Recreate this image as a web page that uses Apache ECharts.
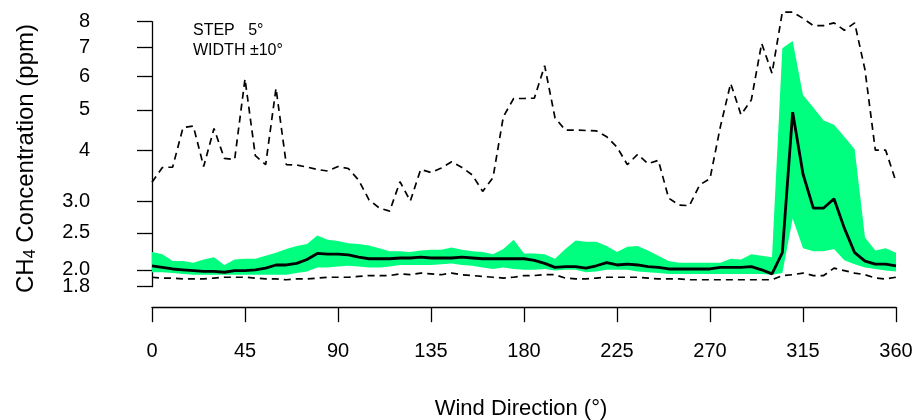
<!DOCTYPE html>
<html>
<head>
<meta charset="utf-8">
<script src="https://cdn.jsdelivr.net/npm/echarts@6/dist/echarts.min.js"></script>
<style>
html,body{margin:0;padding:0;background:#fff;}
#chart{width:917px;height:420px;}
</style>
</head>
<body>
<div id="chart"></div>
<script>
// Wind direction (degrees), step 5
const directions = [0,5,10,15,20,25,30,35,40,45,50,55,60,65,70,75,80,85,90,95,100,105,110,115,120,125,130,135,140,145,150,155,160,165,170,175,180,185,190,195,200,205,210,215,220,225,230,235,240,245,250,255,260,265,270,275,280,285,290,295,300,305,310,315,320,325,330,335,340,345,350,355,360];
// upper dashed line
const upperLine = [3.35,3.64,3.65,4.54,4.58,3.66,4.52,3.83,3.81,5.91,3.89,3.70,5.62,3.70,3.69,3.65,3.60,3.57,3.66,3.62,3.39,3.03,2.89,2.84,3.36,3.01,3.60,3.54,3.63,3.76,3.64,3.49,3.18,3.44,4.82,5.32,5.32,5.33,6.34,4.79,4.48,4.48,4.47,4.46,4.32,4.08,3.70,3.92,3.72,3.79,3.06,2.94,2.93,3.30,3.42,4.56,5.77,4.87,5.28,7.14,6.09,8.41,8.41,8.14,7.84,7.84,7.95,7.65,7.95,6.20,4.01,4.01,3.36];
// lower dashed line
const lowerLine = [1.91,1.90,1.90,1.89,1.89,1.89,1.90,1.91,1.91,1.91,1.90,1.89,1.89,1.88,1.89,1.89,1.90,1.91,1.91,1.91,1.92,1.93,1.93,1.93,1.95,1.94,1.96,1.95,1.94,1.96,1.94,1.93,1.92,1.91,1.90,1.91,1.93,1.93,1.94,1.94,1.90,1.89,1.89,1.90,1.91,1.91,1.91,1.91,1.90,1.89,1.89,1.89,1.88,1.88,1.88,1.88,1.88,1.88,1.88,1.88,1.88,1.93,1.94,1.96,1.93,1.93,2.02,1.99,1.96,1.94,1.90,1.89,1.91];
// median (solid line)
const median = [2.05,2.03,2.01,2.00,1.99,1.98,1.98,1.97,1.99,1.99,2.00,2.02,2.06,2.06,2.08,2.13,2.21,2.20,2.20,2.19,2.16,2.14,2.14,2.14,2.15,2.15,2.16,2.15,2.15,2.15,2.16,2.15,2.14,2.14,2.14,2.14,2.14,2.12,2.08,2.03,2.04,2.04,2.02,2.05,2.09,2.06,2.07,2.06,2.04,2.03,2.01,2.01,2.01,2.01,2.01,2.03,2.03,2.03,2.04,2.00,1.95,2.22,4.94,3.51,2.89,2.89,3.05,2.57,2.22,2.11,2.07,2.07,2.05];
// green band
const bandHigh = [2.23,2.20,2.11,2.11,2.09,2.13,2.16,2.06,2.13,2.14,2.14,2.18,2.22,2.27,2.31,2.34,2.46,2.40,2.38,2.35,2.34,2.32,2.28,2.24,2.24,2.23,2.25,2.26,2.26,2.29,2.26,2.24,2.23,2.20,2.27,2.40,2.21,2.21,2.20,2.14,2.27,2.39,2.37,2.37,2.31,2.23,2.30,2.31,2.25,2.18,2.11,2.09,2.09,2.09,2.09,2.09,2.14,2.13,2.20,2.18,2.16,6.96,7.23,5.42,5.07,4.72,4.61,4.32,4.03,2.43,2.25,2.28,2.22];
const bandLow = [1.97,1.97,1.96,1.95,1.94,1.94,1.94,1.94,1.94,1.94,1.94,1.94,1.94,1.94,1.96,1.98,2.03,2.03,2.04,2.05,2.04,2.03,2.03,2.04,2.06,2.06,2.06,2.06,2.07,2.08,2.06,2.05,2.03,2.01,2.03,2.01,2.00,2.00,2.01,1.99,2.00,2.00,1.97,1.98,2.00,2.00,2.00,1.98,1.97,1.96,1.95,1.95,1.95,1.95,1.95,1.95,1.95,1.95,1.95,1.95,1.94,1.96,2.72,2.28,2.24,2.24,2.27,2.12,2.07,2.03,2.01,1.99,1.98];
// axis ticks
const yTickValues = [1.8,2.0,2.5,3.0,4,5,6,7,8];
const yTickLabels = ['1.8','2.0','2.5','3.0','4','5','6','7','8'];
const xTicks = [0,45,90,135,180,225,270,315,360];

// y-axis scale transform: log(v + 0.5)
const T = v => Math.log(v + 0.5);
const pairs = arr => directions.map((d, i) => [d, T(arr[i])]);

const FONT = 'Liberation Sans, Arial, Helvetica, sans-serif';
const chart = echarts.init(document.getElementById('chart'), null, {renderer: 'canvas'});
const yCustom = yTickValues.map(T);
const labelOf = function (val) {
  let best = 0, bd = Infinity;
  yCustom.forEach((c, i) => { const d = Math.abs(c - val); if (d < bd) { bd = d; best = i; } });
  return yTickLabels[best];
};
// the 1.8 label sits right under 2.0, so it goes on its own (label-only) axis
const yMainLabels = yCustom.slice(1);
const yLowLabels = yCustom.slice(0, 1);

function renderBand(params, api) {
  if (params.dataIndex !== 0) return null;
  const pts = [];
  for (let i = 0; i < directions.length; i++) pts.push(api.coord([directions[i], T(bandHigh[i])]));
  for (let i = directions.length - 1; i >= 0; i--) pts.push(api.coord([directions[i], T(bandLow[i])]));
  return {type: 'polygon', shape: {points: pts}, style: {fill: '#00FF7F', stroke: null}, silent: true};
}

const yBase = {
  type: 'value', min: T(1.8), max: T(8), offset: 30, position: 'left',
  splitLine: {show: false}
};

chart.setOption({
  animation: false,
  backgroundColor: '#ffffff',
  grid: {left: 152, right: 21, top: 21.7, bottom: 133.3, containLabel: false},
  xAxis: {
    type: 'value', min: 0, max: 360, interval: 45, offset: 20.5,
    axisLine: {show: true, lineStyle: {color: '#000', width: 1.3}},
    axisTick: {show: true, length: 15, inside: false, lineStyle: {color: '#000', width: 1.3}},
    axisLabel: {show: true, margin: 34, color: '#000', fontSize: 20, fontFamily: FONT,
      hideOverlap: false, showMinLabel: true, showMaxLabel: true},
    splitLine: {show: false}
  },
  yAxis: [
    Object.assign({}, yBase, {
      axisLine: {show: true, lineStyle: {color: '#000', width: 1.3}},
      axisTick: {show: true, length: 15, inside: false, customValues: yCustom, lineStyle: {color: '#000', width: 1.3}},
      axisLabel: {show: true, margin: 32, color: '#000', fontSize: 20, fontFamily: FONT,
        hideOverlap: false, showMinLabel: true, showMaxLabel: true,
        customValues: yMainLabels, formatter: labelOf}
    }),
    Object.assign({}, yBase, {
      axisLine: {show: false},
      axisTick: {show: false},
      axisLabel: {show: true, margin: 32, color: '#000', fontSize: 20, fontFamily: FONT,
        hideOverlap: false, showMinLabel: true, showMaxLabel: true,
        customValues: yLowLabels, formatter: labelOf}
    })
  ],
  series: [
    {type: 'custom', name: 'band', data: [[0, T(2)]], renderItem: renderBand, clip: false, silent: true, z: 1},
    {type: 'line', name: 'lower', data: pairs(lowerLine), symbol: 'none', clip: false, z: 2,
      lineStyle: {color: '#000', width: 1.7, type: [7, 5]}},
    {type: 'line', name: 'upper', data: pairs(upperLine), symbol: 'none', clip: false, z: 2,
      lineStyle: {color: '#000', width: 1.7, type: [7, 5]}},
    {type: 'line', name: 'median', data: pairs(median), symbol: 'none', clip: false, z: 3,
      lineStyle: {color: '#000', width: 2.8}}
  ],
  graphic: [
    {type: 'text', x: 193, y: 31, style: {text: 'STEP   5°', fontSize: 16, fontFamily: FONT, fill: '#000',
      textAlign: 'left', textVerticalAlign: 'middle', align: 'left', verticalAlign: 'middle'}},
    {type: 'text', x: 193, y: 51, style: {text: 'WIDTH ±10°', fontSize: 16, fontFamily: FONT, fill: '#000',
      textAlign: 'left', textVerticalAlign: 'middle', align: 'left', verticalAlign: 'middle'}},
    {type: 'text', x: 521, y: 409, style: {text: 'Wind Direction (°)', fontSize: 22, fontFamily: FONT, fill: '#000',
      textAlign: 'center', textVerticalAlign: 'middle', align: 'center', verticalAlign: 'middle'}},
    {type: 'text', x: 26, y: 158.5, rotation: Math.PI / 2,
      style: {text: '{a|CH}{s|4}{a| Concentration (ppm)}', fill: '#000',
        textAlign: 'center', textVerticalAlign: 'middle', align: 'center', verticalAlign: 'middle',
        rich: {
          a: {fontSize: 24, fontFamily: FONT, fill: '#000', lineHeight: 26},
          s: {fontSize: 16, fontFamily: FONT, fill: '#000', verticalAlign: 'bottom', lineHeight: 26, padding: [10, 0, 0, 0]}
        }}}
  ]
});
</script>
</body>
</html>
